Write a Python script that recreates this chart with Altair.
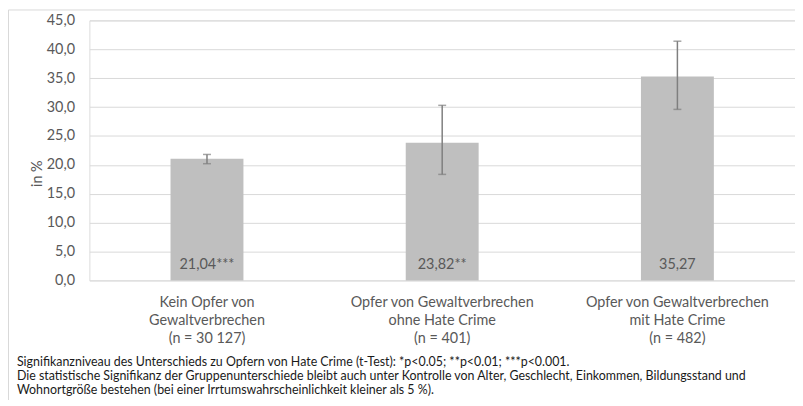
import altair as alt
import pandas as pd

categories = [
    "Kein Opfer von|Gewaltverbrechen|(n = 30 127)",
    "Opfer von Gewaltverbrechen|ohne Hate Crime|(n = 401)",
    "Opfer von Gewaltverbrechen|mit Hate Crime|(n = 482)",
]
values = [21.04, 23.82, 35.27]
err_low = [20.2, 18.35, 29.6]
err_high = [21.8, 30.3, 41.4]
bar_labels = ["21,04***", "23,82**", "35,27"]
footnote = [
    "Signifikanzniveau des Unterschieds zu Opfern von Hate Crime (t-Test): *p<0.05; **p<0.01; ***p<0.001.",
    "Die statistische Signifikanz der Gruppenunterschiede bleibt auch unter Kontrolle von Alter, Geschlecht, Einkommen, Bildungsstand und",
    "Wohnortgröße bestehen (bei einer Irrtumswahrscheinlichkeit kleiner als 5 %).",
]

df = pd.DataFrame({
    "cat": categories,
    "value": values,
    "lo": err_low,
    "hi": err_high,
    "label": bar_labels,
})

FONT = "Lato"
GRAY = "#595959"
FS = 14.5

x_axis = alt.Axis(
    labelExpr="split(datum.label, '|')",
    labelAngle=0,
    labelFontSize=FS,
    labelLineHeight=17.8,
    labelColor=GRAY,
    labelFont=FONT,
    labelPadding=15.5,
    labelLimit=400,
    ticks=False,
    domain=False,
    grid=False,
    labelBaseline="top",
    title=None,
)
x_scale = alt.Scale(paddingInner=0.69, paddingOuter=0.345)

y_axis = alt.Axis(
    tickCount=10,
    labelExpr="replace(format(datum.value, '.1f'), '.', ',')",
    labelFontSize=FS,
    labelColor=GRAY,
    labelFont=FONT,
    labelPadding=15,
    labelOverlap=False,
    ticks=False,
    domain=False,
    gridColor="#d9d9d9",
    gridWidth=1,
    title="in %",
    titleFontSize=FS,
    titleColor=GRAY,
    titleFont=FONT,
    titleFontWeight="normal",
    titleAngle=270,
    titleX=-52,
    titleY=154,
    titleAlign="center",
    titleBaseline="middle",
)
y_scale = alt.Scale(domain=[0, 45], nice=False)


def X():
    return alt.X("cat:N", sort=categories, scale=x_scale, axis=x_axis)


def Y(field):
    return alt.Y(field, scale=y_scale, axis=y_axis)


bars = alt.Chart(df).mark_bar(color="#bfbfbf").encode(x=X(), y=Y("value:Q"))

rules = alt.Chart(df).mark_rule(color="#7f7f7f", strokeWidth=1.5).encode(
    x=X(), y=Y("lo:Q"), y2="hi:Q"
)
cap_lo = alt.Chart(df).mark_tick(color="#7f7f7f", thickness=1.5, size=8, orient="horizontal").encode(
    x=X(), y=Y("lo:Q")
)
cap_hi = alt.Chart(df).mark_tick(color="#7f7f7f", thickness=1.5, size=8, orient="horizontal").encode(
    x=X(), y=Y("hi:Q")
)

texts = alt.Chart(df).mark_text(
    font=FONT, fontSize=FS, color=GRAY, baseline="middle", dy=-16
).encode(
    x=X(),
    y=alt.datum(0, scale=y_scale, axis=y_axis),
    text="label:N",
)

notes = alt.Chart(pd.DataFrame({"t": ["\n".join(footnote)]})).mark_text(
    font=FONT, fontSize=12.5, color="#1a1a1a", align="left", baseline="middle",
    lineBreak="\n", lineHeight=14.4, clip=False,
).encode(
    x=alt.value(-73),
    y=alt.value(344),
    text="t:N",
)

border = alt.Chart(pd.DataFrame({"k": [0]})).mark_rect(
    fill=None, stroke="#d9d9d9", strokeWidth=1, clip=False
).encode(
    x=alt.value(-81.5),
    x2=alt.value(713),
    y=alt.value(-10.5),
    y2=alt.value(420),
)

chart = alt.layer(bars, rules, cap_lo, cap_hi, texts, notes, border).properties(
    width=711,
    height=262,
    padding={"left": 82, "top": 11, "right": 0, "bottom": 119},
    autosize=alt.AutoSizeParams(type="none"),
).configure_view(stroke=None).configure(background="white")

chart.save("out.html", embed_options={"renderer": "svg", "actions": False})
